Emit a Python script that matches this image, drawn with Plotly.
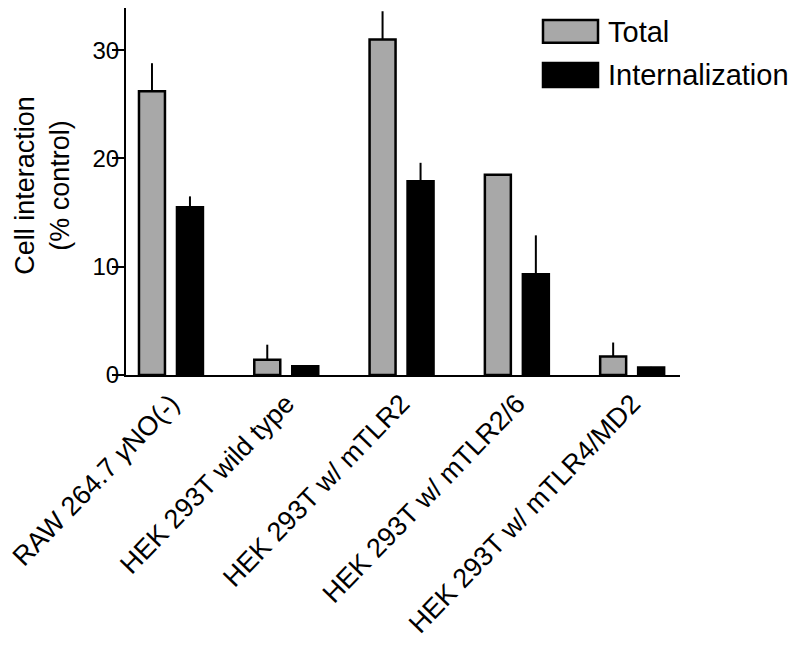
import plotly.graph_objects as go

# категории и значения
categories = ["RAW 264.7 <i>γ</i>NO(-)", "HEK 293T wild type", "HEK 293T w/ mTLR2",
              "HEK 293T w/ mTLR2/6", "HEK 293T w/ mTLR4/MD2"]
series_names = ["Total", "Internalization"]
total = [26.2, 1.4, 31.0, 18.5, 1.7]
total_err = [2.6, 1.4, 2.6, 0.0, 1.3]
internal = [15.5, 0.8, 17.9, 9.3, 0.7]
internal_err = [1.0, 0.0, 1.7, 3.6, 0.05]
y_ticks = [0, 10, 20, 30]
y_title = "Cell interaction<br>(% control)"

gray = "#a8a8a8"
font = "Liberation Sans, Arial, sans-serif"

fig = go.Figure()
fig.add_trace(go.Bar(x=categories, y=total, name=series_names[0],
                     marker=dict(color=gray, line=dict(color="black", width=2.5)),
                     error_y=dict(type="data", symmetric=False, array=total_err,
                                  arrayminus=[0] * len(total), color="black",
                                  thickness=2, width=0)))
fig.add_trace(go.Bar(x=categories, y=internal, name=series_names[1],
                     marker=dict(color="black", line=dict(color="black", width=2.5)),
                     error_y=dict(type="data", symmetric=False, array=internal_err,
                                  arrayminus=[0] * len(internal), color="black",
                                  thickness=2, width=0)))

# страница имеет отступ 8px, поэтому фигура чуть меньше окна
fig.update_layout(
    width=792, height=646,
    margin=dict(l=118, r=120, t=0, b=279),
    paper_bgcolor="white", plot_bgcolor="white",
    barmode="group", bargap=0.341, bargroupgap=0.316,
    showlegend=False,
    font=dict(family=font, color="black"),
)
fig.update_xaxes(range=[-0.39, 4.415], showline=True, linecolor="black", linewidth=2,
                 ticks="", tickangle=-46, tickfont=dict(size=27), showgrid=False,
                 automargin=False)
fig.update_yaxes(range=[0, 33.9], showline=True, linecolor="black", linewidth=2,
                 ticks="outside", ticklen=12, tickwidth=2, tickcolor="black",
                 tickvals=y_ticks, tickfont=dict(size=24), showgrid=False, zeroline=False,
                 automargin=False, ticklabelstandoff=-12)

# подпись оси Y аннотацией, чтобы точно поставить
fig.add_annotation(x=-0.150, y=0.518, xref="paper", yref="paper", text=y_title,
                   textangle=-90, showarrow=False, xanchor="center", yanchor="middle",
                   font=dict(size=27, family=font, color="black"))

# легенда вручную: крупные прямоугольники
legend_boxes = [(0.967, 0.905, gray, 0.935), (0.850, 0.785, "black", 0.817)]
for name, (y1, y0, col, ty) in zip(series_names, legend_boxes):
    fig.add_shape(type="rect", xref="paper", yref="paper", x0=0.7527, x1=0.852,
                  y0=y0, y1=y1, fillcolor=col, line=dict(color="black", width=2.5))
    fig.add_annotation(x=0.866, y=ty, xref="paper", yref="paper", text=name,
                       showarrow=False, xanchor="left", yanchor="middle",
                       font=dict(size=29, family=font, color="black"))

fig.write_html("out.html")
